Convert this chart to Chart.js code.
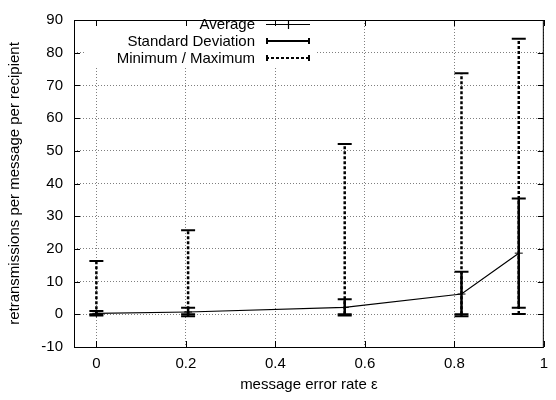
<!DOCTYPE html>
<html>
<head>
<meta charset="utf-8">
<script src="https://cdn.jsdelivr.net/npm/chart.js@4.4.1/dist/chart.umd.min.js"></script>
<style>
  body { margin: 0; background: #fff; }
  #wrap { width: 556px; height: 400px; }
</style>
</head>
<body>
<div id="wrap"><canvas id="grafica" width="556" height="400"></canvas></div>
<script>
// message error rate (x) for each measurement
const errorRates = [0, 0.205, 0.555, 0.816, 0.944];
const averages = [0.3, 0.7, 2.1, 6.2, 18.7];
const stdDevs = [0.7, 1.3, 2.5, 6.8, 16.7];
const minimums = [0, 0, 0, 0, 0.1];
const maximums = [16.3, 25.7, 52.1, 73.7, 84.3];

const xTicks = [0, 0.2, 0.4, 0.6, 0.8, 1];
const yTicks = [-10, 0, 10, 20, 30, 40, 50, 60, 70, 80, 90];

// vertical segments lo..hi for each x, separated by gaps
function segmentos(lows, highs) {
  const out = [];
  errorRates.forEach((x, i) => {
    out.push({ x: x, y: lows[i] }, { x: x, y: highs[i] }, { x: x, y: null });
  });
  return out;
}
function extremos(lows, highs) {
  const out = [];
  errorRates.forEach((x, i) => {
    out.push({ x: x, y: lows[i] }, { x: x, y: highs[i] });
  });
  return out;
}

const sdLow = averages.map((a, i) => a - stdDevs[i]);
const sdHigh = averages.map((a, i) => a + stdDevs[i]);

const FUENTE = '"Liberation Sans", Arial, sans-serif';
Chart.defaults.font.family = FUENTE;
Chart.defaults.font.size = 15;
Chart.defaults.color = '#000';

const marcoPlugin = {
  id: 'marco',
  afterDraw(chart) {
    const { ctx, chartArea: a, scales: { x, y } } = chart;
    ctx.save();
    // fondo blanco de la leyenda (tapa la rejilla)
    ctx.fillStyle = '#fff';
    ctx.fillRect(86, 19, 230, 47);

    ctx.strokeStyle = '#000';
    ctx.lineWidth = 1;
    ctx.setLineDash([]);
    ctx.strokeRect(a.left + 0.5, a.top + 0.5, a.right - a.left - 1, a.bottom - a.top);
    ctx.beginPath();
    x.ticks.forEach(t => {
      const px = Math.round(x.getPixelForValue(t.value)) + 0.5;
      ctx.moveTo(px, a.bottom); ctx.lineTo(px, a.bottom - 6);
      ctx.moveTo(px, a.top); ctx.lineTo(px, a.top + 6);
    });
    y.ticks.forEach(t => {
      const py = Math.round(y.getPixelForValue(t.value)) + 0.5;
      ctx.moveTo(a.left, py); ctx.lineTo(a.left + 6, py);
      ctx.moveTo(a.right, py); ctx.lineTo(a.right - 6, py);
    });
    ctx.stroke();

    // leyenda estilo gnuplot
    ctx.font = '15px ' + FUENTE;
    ctx.fillStyle = '#000';
    ctx.textAlign = 'right';
    ctx.textBaseline = 'middle';
    const filas = [
      { texto: 'Average', y: 24 },
      { texto: 'Standard Deviation', y: 41 },
      { texto: 'Minimum / Maximum', y: 58 }
    ];
    const x0 = 266, x1 = 310;
    filas.forEach(f => ctx.fillText(f.texto, 255, f.y + 1));
    // average
    ctx.lineWidth = 1.2;
    ctx.beginPath();
    ctx.moveTo(x0, 24.5); ctx.lineTo(x1, 24.5);
    ctx.moveTo(288.5, 20); ctx.lineTo(288.5, 29);
    ctx.stroke();
    // std dev
    ctx.lineWidth = 2;
    ctx.beginPath();
    ctx.moveTo(x0, 41); ctx.lineTo(x1, 41);
    ctx.moveTo(x0 + 1, 38); ctx.lineTo(x0 + 1, 44);
    ctx.moveTo(x1 - 1, 38); ctx.lineTo(x1 - 1, 44);
    ctx.stroke();
    // min / max
    ctx.setLineDash([3, 2]);
    ctx.beginPath();
    ctx.moveTo(x0, 58); ctx.lineTo(x1, 58);
    ctx.stroke();
    ctx.setLineDash([]);
    ctx.beginPath();
    ctx.moveTo(x0 + 1, 55); ctx.lineTo(x0 + 1, 61);
    ctx.moveTo(x1 - 1, 55); ctx.lineTo(x1 - 1, 61);
    ctx.stroke();
    ctx.restore();
  }
};

const ctx = document.getElementById('grafica').getContext('2d');
new Chart(ctx, {
  type: 'line',
  data: {
    datasets: [
      {
        label: 'Average',
        data: errorRates.map((x, i) => ({ x: x, y: averages[i] })),
        borderColor: '#000',
        borderWidth: 1.2,
        pointStyle: 'cross',
        pointRadius: 4,
        pointBorderWidth: 1,
        pointBorderColor: '#000',
        order: 1
      },
      {
        label: 'Standard Deviation',
        data: segmentos(sdLow, sdHigh),
        borderColor: '#000',
        borderWidth: 2.5,
        pointRadius: 0,
        spanGaps: false,
        order: 2
      },
      {
        label: 'sd caps',
        data: extremos(sdLow, sdHigh),
        showLine: false,
        pointStyle: 'line',
        pointRadius: 7,
        pointBorderWidth: 2,
        pointBorderColor: '#000',
        order: 2
      },
      {
        label: 'Minimum / Maximum',
        data: segmentos(minimums, maximums),
        borderColor: '#000',
        borderWidth: 2.5,
        borderDash: [3, 2],
        pointRadius: 0,
        spanGaps: false,
        order: 3
      },
      {
        label: 'minmax caps',
        data: extremos(minimums, maximums),
        showLine: false,
        pointStyle: 'line',
        pointRadius: 7,
        pointBorderWidth: 2,
        pointBorderColor: '#000',
        order: 3
      }
    ]
  },
  options: {
    responsive: false,
    animation: false,
    layout: { padding: { top: 12, right: 5, left: 0, bottom: 0 } },
    plugins: { legend: { display: false }, tooltip: { enabled: false } },
    scales: {
      x: {
        type: 'linear',
        min: -0.05,
        max: 1,
        afterBuildTicks: s => { s.ticks = xTicks.map(v => ({ value: v })); },
        afterFit: s => { s.height = 53; },
        ticks: { padding: 8, callback: v => String(v) },
        grid: { color: 'rgba(0,0,0,0.5)', drawTicks: false, lineWidth: 1 },
        border: { display: false, dash: [1, 2] },
        title: { display: true, text: 'message error rate ε', padding: { top: 0, bottom: 6 } }
      },
      y: {
        type: 'linear',
        min: -10,
        max: 90,
        afterBuildTicks: s => { s.ticks = yTicks.map(v => ({ value: v })); },
        afterFit: s => { s.width = 74; },
        ticks: { padding: 11, callback: v => String(v) },
        grid: { color: 'rgba(0,0,0,0.5)', drawTicks: false, lineWidth: 1 },
        border: { display: false, dash: [1, 2] },
        title: { display: true, text: 'retransmissions per message per recipient', padding: { top: 6, bottom: 0 } }
      }
    }
  },
  plugins: [marcoPlugin]
});
</script>
</body>
</html>
